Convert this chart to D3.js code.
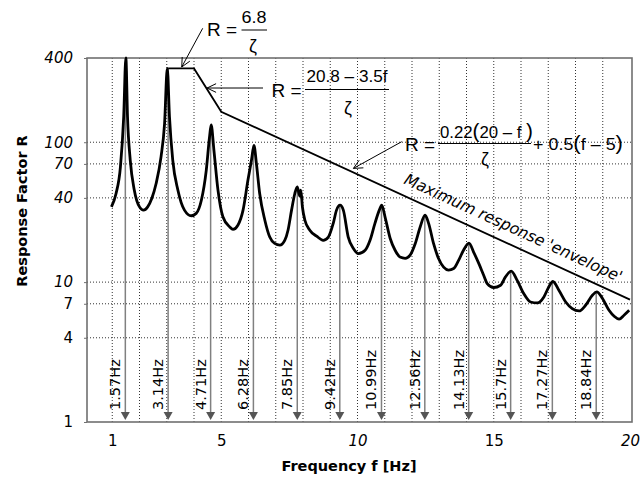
<!DOCTYPE html>
<html>
<head>
<meta charset="utf-8">
<script src="https://cdn.jsdelivr.net/npm/d3@7"></script>
<style>
    body { margin: 0; background: #fff; }
    svg { display: block; }
</style>
</head>
<body>
<svg id="chart" width="642" height="480"></svg>
<script>
// Response curve (frequency Hz, response factor R)
const curveF = [0.97, 1.14, 1.30, 1.42, 1.50, 1.56, 1.66, 1.81, 2.00, 2.15, 2.30, 2.45, 2.61, 2.79, 2.92, 3.02,
    3.10, 3.22, 3.41, 3.65, 3.90, 4.08, 4.27, 4.45, 4.57, 4.63, 4.73, 4.88, 5.06, 5.31, 5.43, 5.61, 5.80, 5.98,
    6.11, 6.20, 6.29, 6.41, 6.60, 6.78, 6.96, 7.15, 7.33, 7.45, 7.58, 7.70, 7.79, 7.88, 7.92, 7.98, 8.07, 8.25,
    8.50, 8.74, 8.93, 9.11, 9.23, 9.36, 9.48, 9.66, 9.85, 10.03, 10.28, 10.46, 10.64, 10.80, 10.89, 11.01, 11.20,
    11.38, 11.56, 11.75, 11.93, 12.12, 12.30, 12.48, 12.61, 12.79, 12.97, 13.16, 13.34, 13.53, 13.71, 13.89, 14.09,
    14.26, 14.45, 14.63, 14.76, 15.00, 15.25, 15.43, 15.64, 15.86, 16.10, 16.35, 16.60, 16.84, 17.02, 17.17, 17.39,
    17.64, 17.88, 18.13, 18.37, 18.62, 18.78, 18.99, 19.23, 19.42, 19.60, 19.78, 19.97];
const curveR = [34.5, 43, 66.7, 152, 400, 152, 74.5, 45.4, 34.5, 32.7, 34.5, 39.6, 50.7, 78.6, 136, 337,
    152, 74.5, 45.4, 32.7, 29.8, 31, 38.5, 63, 109, 133, 88, 45.4, 29.3, 24.8, 23.8, 25.5, 32.7, 53.6,
    74.5, 95, 70.5, 43, 27.7, 21, 18.9, 18.4, 19.9, 23.5, 32.7, 43, 48, 41.2, 45.4, 34.3, 27.7, 23.5,
    21.3, 19.9, 21, 26.3, 32.7, 35.5, 32.7, 21, 17.4, 16, 16.9, 19.9, 26.3, 32.7, 35.5, 29.3, 20.5,
    16.9, 15.1, 14.8, 15.6, 18.9, 24.8, 30.1, 26.3, 18.9, 14.8, 12.8, 12.2, 12.5, 14.3, 16.9, 19,
    16.4, 13.6, 11.2, 9.77, 9.15, 9.5, 10.9, 12, 10.3, 8.28, 7.21, 7.1, 7.84, 9.24, 10.1, 8.75,
    7.21, 6.47, 6.22, 6.83, 8.06, 8.51, 7.63, 6.29, 5.7, 5.43, 5.8, 6.29];

// Maximum response envelope (zeta = 0.02)
const envelopeF = [3.05, 4, 5, 20];
const envelopeR = [337, 337, 165, 7.5];

// Natural frequency markers
const arrowF = [1.48, 3.05, 4.61, 6.18, 7.79, 9.35, 10.88, 12.47, 14.08, 15.62, 17.15, 18.76];
const arrowTopR = [400, 337, 133, 95, 48, 35.5, 35.5, 30.1, 19, 12, 10.1, 8.5];
const arrowLabels = ['1.57Hz', '3.14Hz', '4.71Hz', '6.28Hz', '7.85Hz', '9.42Hz', '10.99Hz', '12.56Hz',
    '14.13Hz', '15.7Hz', '17.27Hz', '18.84Hz'];

const yTicks = [1, 4, 7, 10, 40, 70, 100, 400];
const yGrid = [4, 7, 10, 40, 70, 100];
const xTicks = [1, 5, 10, 15, 20];
const xGrid = [1, 2, 3, 4, 5, 6, 7, 8, 9, 10, 11, 12, 13, 14, 15, 16, 17, 18, 19];
const italicLabels = ['400', '100', '70', '40', '10', '20'];

const box = { left: 87, right: 632, top: 58, bottom: 422 };
const x = d3.scaleLinear().domain([0, 20]).range([85, 630]);
const y = d3.scaleLog().domain([1, 400]).range([box.bottom, box.top]);

const svg = d3.select('#chart');
svg.append('rect').attr('width', 642).attr('height', 480).attr('fill', '#fff');

const tickFont = 'DejaVu Sans, sans-serif';
const mathFont = 'Liberation Sans, Arial, sans-serif';

// Dotted grid
svg.append('g').selectAll('line').data(xGrid).join('line')
    .attr('x1', d => x(d)).attr('x2', d => x(d))
    .attr('y1', box.top).attr('y2', box.bottom)
    .attr('stroke', '#333').attr('stroke-width', 1).attr('stroke-dasharray', '1,2');
svg.append('g').selectAll('line').data(yGrid).join('line')
    .attr('x1', box.left).attr('x2', box.right)
    .attr('y1', d => y(d)).attr('y2', d => y(d))
    .attr('stroke', '#333').attr('stroke-width', 1).attr('stroke-dasharray', '1,2');

// Frame
svg.append('rect')
    .attr('x', box.left).attr('y', box.top)
    .attr('width', box.right - box.left).attr('height', box.bottom - box.top)
    .attr('fill', 'none').attr('stroke', '#707070').attr('stroke-width', 1.6);

// Axes
const yAxis = svg.append('g')
    .attr('transform', `translate(${box.left},0)`)
    .call(d3.axisLeft(y).tickValues(yTicks).tickSize(3).tickPadding(11).tickFormat(d3.format('d')));
const xAxis = svg.append('g')
    .attr('transform', `translate(0,${box.bottom})`)
    .call(d3.axisBottom(x).tickValues(xTicks).tickSize(0).tickPadding(13).tickFormat(d3.format('d')));
for (const ax of [yAxis, xAxis]) {
    ax.select('.domain').remove();
    ax.selectAll('.tick line').attr('stroke', '#707070');
    ax.selectAll('.tick text')
        .attr('font-family', tickFont).attr('font-size', 15).attr('fill', '#000')
        .attr('font-style', function () { return italicLabels.includes(this.textContent) ? 'italic' : 'normal'; });
}

// Axis titles
svg.append('text')
    .attr('transform', 'translate(27,211) rotate(-90)')
    .attr('text-anchor', 'middle')
    .attr('font-family', tickFont).attr('font-size', 14.5).attr('font-weight', 'bold')
    .text('Response Factor R');
svg.append('text')
    .attr('x', 349).attr('y', 471)
    .attr('text-anchor', 'middle')
    .attr('font-family', tickFont).attr('font-size', 14.5).attr('font-weight', 'bold')
    .text('Frequency f [Hz]');

// Frequency arrows down to the axis
const arrows = svg.append('g');
arrowF.forEach((f, i) => {
    const ax = x(f);
    const tip = y(1) - 2;
    arrows.append('line')
        .attr('x1', ax).attr('x2', ax)
        .attr('y1', y(arrowTopR[i])).attr('y2', tip - 6)
        .attr('stroke', '#808080').attr('stroke-width', 1.5);
    arrows.append('path')
        .attr('d', `M${ax - 4.5},${tip - 8}L${ax + 4.5},${tip - 8}L${ax},${tip}Z`)
        .attr('fill', '#555');
    arrows.append('text')
        .attr('transform', `translate(${ax - 5},410) rotate(-90)`)
        .attr('font-family', tickFont).attr('font-size', 14.5)
        .text(arrowLabels[i]);
});

// Envelope
const envPts = envelopeF.map((f, i) => [x(f), y(envelopeR[i])]);
svg.append('path')
    .attr('d', d3.line()(envPts))
    .attr('fill', 'none').attr('stroke', '#000').attr('stroke-width', 1.8);

// Response curve
const curvePts = curveF.map((f, i) => [x(f), y(curveR[i])]);
svg.append('path')
    .attr('d', d3.line().curve(d3.curveMonotoneX)(curvePts))
    .attr('fill', 'none').attr('stroke', '#000').attr('stroke-width', 2.8)
    .attr('stroke-linejoin', 'round');

// Envelope label, rotated along the sloping segment
const [p0, p1] = [envPts[2], envPts[3]];
const angle = Math.atan2(p1[1] - p0[1], p1[0] - p0[0]) * 180 / Math.PI;
const labelF = 11.5;
const t = (x(labelF) - p0[0]) / (p1[0] - p0[0]);
svg.append('text')
    .attr('transform', `translate(${x(labelF)},${p0[1] + t * (p1[1] - p0[1])}) rotate(${angle})`)
    .attr('y', -11)
    .attr('font-family', tickFont).attr('font-size', 16).attr('font-style', 'italic')
    .attr('textLength', 238).attr('lengthAdjust', 'spacingAndGlyphs')
    .text("Maximum response 'envelope'");

// Formula annotations
function arrowTo(x1, y1, x2, y2) {
    const a = Math.atan2(y2 - y1, x2 - x1);
    const g = svg.append('g').attr('stroke', '#000').attr('stroke-width', 1).attr('fill', 'none');
    g.append('line').attr('x1', x1).attr('y1', y1).attr('x2', x2).attr('y2', y2);
    for (const s of [-1, 1]) {
        const b = a + Math.PI + s * 0.45;
        g.append('line').attr('x1', x2).attr('y1', y2)
            .attr('x2', x2 + 10 * Math.cos(b)).attr('y2', y2 + 10 * Math.sin(b));
    }
}

// parts: [text, fontSize] pieces laid out in one text element
function mathText(px, py, parts, anchor, len) {
    const t = svg.append('text')
        .attr('x', px).attr('y', py)
        .attr('font-family', mathFont)
        .attr('text-anchor', anchor || 'start');
    for (const [s, size] of parts) t.append('tspan').attr('font-size', size).text(s);
    if (len) t.attr('textLength', len).attr('lengthAdjust', 'spacingAndGlyphs');
    return t;
}

function bar(x1, x2, by) {
    svg.append('line').attr('x1', x1).attr('x2', x2).attr('y1', by).attr('y2', by)
        .attr('stroke', '#000').attr('stroke-width', 1);
}

// R = 6.8 / zeta
mathText(207, 35.5, [['R =', 19]]);
mathText(254, 23, [['6.8', 16]], 'middle', 25);
bar(241.5, 267, 30);
mathText(253, 52, [['ζ', 18]], 'middle');
arrowTo(202.7, 28.3, x(3.55), y(345));

// R = (20.8 - 3.5f) / zeta
mathText(271.5, 97, [['R =', 19]]);
mathText(306.5, 82, [['20.8 – 3.5f', 17]], 'start', 81);
bar(305, 389, 89.5);
mathText(348, 114, [['ζ', 18]], 'middle');
arrowTo(263, 88, x(4.48), y(244));

// R = 0.22(20 - f) / zeta + 0.5(f - 5)
mathText(405, 150.5, [['R =', 19]]);
mathText(440, 138, [['0.22', 17], ['(', 21], ['20 – f ', 17], [')', 21]], 'start', 93);
bar(438, 531, 143.5);
mathText(485, 165, [['ζ', 18]], 'middle');
mathText(533, 149.5, [['+ 0.5', 17], ['(', 21], ['f – 5', 17], [')', 21]], 'start', 90);
arrowTo(401.7, 141.7, x(9.85), y(65));
</script>
</body>
</html>
